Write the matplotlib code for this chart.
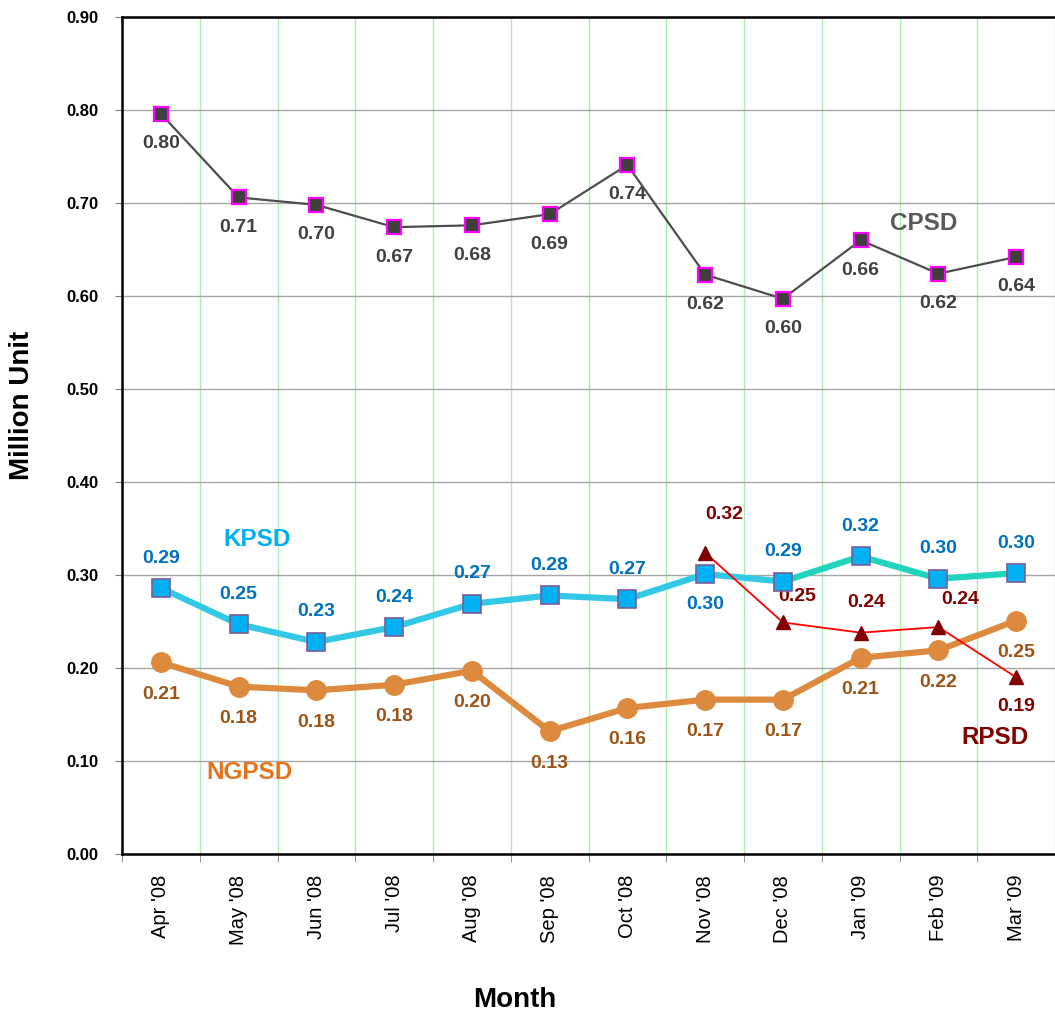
import matplotlib
matplotlib.use("Agg")
import matplotlib.pyplot as plt
from matplotlib import font_manager
import numpy as np

plt.rcParams['font.family'] = ['Liberation Sans', 'DejaVu Sans']

months = ["Apr '08", "May '08", "Jun '08", "Jul '08", "Aug '08", "Sep '08",
          "Oct '08", "Nov '08", "Dec '08", "Jan '09", "Feb '09", "Mar '09"]
cpsd = [0.796, 0.706, 0.698, 0.674, 0.676, 0.688, 0.741, 0.623, 0.597, 0.660, 0.624, 0.642]
kpsd = [0.286, 0.247, 0.228, 0.244, 0.269, 0.278, 0.274, 0.301, 0.293, 0.320, 0.296, 0.302]
ngpsd = [0.206, 0.180, 0.176, 0.182, 0.197, 0.132, 0.157, 0.166, 0.166, 0.211, 0.219, 0.251]
rpsd_months = ["Nov '08", "Dec '08", "Jan '09", "Feb '09", "Mar '09"]
rpsd = [0.324, 0.249, 0.238, 0.244, 0.190]
yticks = [0.0, 0.1, 0.2, 0.3, 0.4, 0.5, 0.6, 0.7, 0.8, 0.9]

names = {f.name for f in font_manager.fontManager.ttflist}
narrow = 'Liberation Sans Narrow' if 'Liberation Sans Narrow' in names else None

fig = plt.figure(figsize=(10.55, 10.17), dpi=100)
ax = fig.add_axes([122/1055, 163/1017, 1 - 122/1055, (854-17)/1017])

x = np.arange(len(months))
xr = np.array([months.index(m) for m in rpsd_months])
PX = 0.72  # pixels -> points

# CPSD
ax.plot(x, cpsd, color='#4D4D4D', lw=1.6, marker='s', ms=9.5,
        mfc='#3F3F3F', mec='#FF00FF', mew=1.6, zorder=5)
# KPSD line segments
kcols = ['#33C8E6'] * 8 + ['#20D4BE'] * 3
for i in range(len(x) - 1):
    ax.plot(x[i:i+2], kpsd[i:i+2], color=kcols[i], lw=4.5, solid_capstyle='round', zorder=4)
ax.plot(x, kpsd, ls='none', marker='s', ms=12.5, mfc='#00B0F0', mec='#7A5C9E', mew=1.2, zorder=6)
# NGPSD
ax.plot(x, ngpsd, color='#DE8A3E', lw=4.5, marker='o', ms=14, mfc='#DE8A3E', mec='#DE8A3E', zorder=4)
# RPSD
ax.plot(xr, rpsd, color='#FF0000', lw=1.3, marker='^', ms=9.5, mfc='#800000', mec='#800000', zorder=7)

lab_kw = dict(fontsize=14, fontweight='bold', ha='center', va='center')
def lab(xi, v, dx, dy, col):
    ax.annotate(f"{v:.2f}", (xi, v), xytext=(dx * PX, dy * PX), textcoords='offset points',
                color=col, **lab_kw)

for xi, v in zip(x, cpsd):
    lab(xi, v, 0, -30, '#404040')
for xi, v in zip(x, kpsd):
    lab(xi, v, 0, -30 if months[xi] == "Nov '08" else 30, '#0070C0')
for xi, v in zip(x, ngpsd):
    lab(xi, v, 0, -32, '#9C5418')
r_off = [(19, 38), (14, 26), (6, 30), (22, 28), (0, -29)]
for xi, v, o in zip(xr, rpsd, r_off):
    lab(xi, v, o[0], o[1], '#800000')

# series names
nm_kw = dict(fontsize=17.5, fontweight='bold', ha='center', va='center')
ax.text(9.81, 0.678, 'CPSD', color='#595959', **nm_kw)
ax.text(1.24, 0.338, 'KPSD', color='#00B0F0', **nm_kw)
ax.text(1.145, 0.088, 'NGPSD', color='#E8721C', **nm_kw)
ax.text(10.73, 0.125, 'RPSD', color='#800000', **nm_kw)

ax.set_xlim(-0.5, len(months) - 0.5)
ax.set_ylim(0, 0.9)
ax.set_yticks(yticks)
if narrow:
    ax.set_yticklabels([f"{t:.2f}" for t in yticks], fontsize=13, fontweight='bold', family=narrow)
else:
    ax.set_yticklabels([f"{t:.2f}" for t in yticks], fontsize=12, fontweight='bold')
ax.yaxis.grid(True, color='#A6A6A6', lw=1)
ax.set_xticks(x)
ax.set_xticklabels(months, rotation=90, fontsize=14.5)
ax.set_xticks(np.arange(-0.5, len(months), 1.0), minor=True)
ax.tick_params(axis='x', which='major', length=0, pad=15)
ax.tick_params(axis='x', which='minor', length=6, color='#808080')
ax.tick_params(axis='y', length=5, color='#808080', pad=12)
ax.xaxis.grid(True, which='minor', color='#A8F0A8', lw=1)
ax.set_axisbelow(True)
for s in ['left', 'bottom', 'top']:
    ax.spines[s].set_linewidth(1.8)
    ax.spines[s].set_color('black')
ax.spines['right'].set_visible(False)

fig.text(515/1055, 1 - 1000/1017, 'Month', fontsize=20, fontweight='bold', ha='center', va='center')
fig.text(22/1055, 1 - 405/1017, 'Million Unit', fontsize=20, fontweight='bold', rotation=90,
         ha='center', va='center')

fig.savefig('out.png', dpi=100)
